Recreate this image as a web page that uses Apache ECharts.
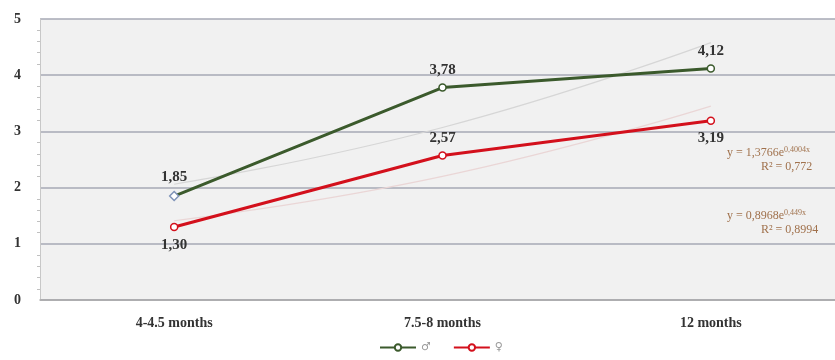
<!DOCTYPE html>
<html>
<head>
<meta charset="utf-8">
<script src="https://cdn.jsdelivr.net/npm/echarts@6/dist/echarts.min.js"></script>
<style>
  html, body { margin: 0; padding: 0; background: #fff; }
  #chart { width: 835px; height: 360px; }
</style>
</head>
<body>
<div id="chart"></div>
<script>
var categories = ['4-4.5 months', '7.5-8 months', '12 months'];
var maleValues = [1.85, 3.78, 4.12];
var femaleValues = [1.30, 2.57, 3.19];
// exponential trend lines (y = 1,3766e^0,4004x and y = 0,8968e^0,449x)
var maleTrend = [2.06, 3.07, 4.58];
var femaleTrend = [1.41, 2.20, 3.45];
var yTicks = [0, 1, 2, 3, 4, 5];

var serif = '"Liberation Serif", "DejaVu Serif", serif';
var green = '#3b5a2c';
var red = '#d3101c';

function comma(v) {
  return v.toFixed(2).replace('.', ',');
}

var eqRich = {
  a: { font: '12px "Liberation Serif", serif', fill: '#a0714c', lineHeight: 14 },
  s: { font: '8px "Liberation Serif", serif', fill: '#a0714c', verticalAlign: 'top', lineHeight: 14 },
  b: { font: '12px "Liberation Serif", serif', fill: '#a0714c', lineHeight: 14, padding: [0, 0, 0, 34] }
};

var chart = echarts.init(document.getElementById('chart'));
var option = {
  backgroundColor: '#ffffff',
  animation: false,
  grid: {
    left: 40, top: 19, bottom: 60, right: -10,
    outerBoundsMode: 'none',
    show: true, backgroundColor: '#f1f1f1', borderWidth: 0
  },
  xAxis: {
    type: 'category',
    data: categories,
    boundaryGap: true,
    axisLine: { lineStyle: { color: '#a9a9a9', width: 1.5 } },
    axisTick: { show: false },
    axisLabel: {
      fontFamily: serif, fontWeight: 'bold', fontSize: 14, color: '#333', margin: 16
    }
  },
  yAxis: {
    type: 'value',
    min: yTicks[0], max: yTicks[yTicks.length - 1], interval: 1,
    axisLine: { show: true, lineStyle: { color: '#c8c8c8' } },
    axisTick: { show: false },
    minorTick: { show: true, splitNumber: 5, length: 3, lineStyle: { color: '#c0c0c0' } },
    splitLine: { lineStyle: { color: '#a6a9b4', width: 1.5 } },
    axisLabel: {
      fontFamily: serif, fontWeight: 'bold', fontSize: 14, color: '#333', margin: 19
    }
  },
  legend: {
    bottom: 2, left: 374,
    itemWidth: 36, itemHeight: 8, itemGap: 22,
    textStyle: { fontFamily: '"DejaVu Sans", sans-serif', fontSize: 11, color: '#999' },
    data: ['♂', '♀']
  },
  series: [
    {
      name: 'male trend', type: 'line', data: maleTrend, smooth: true,
      symbol: 'none', silent: true, z: 1,
      lineStyle: { color: '#d6d6d6', width: 1.2 }
    },
    {
      name: 'female trend', type: 'line', data: femaleTrend, smooth: true,
      symbol: 'none', silent: true, z: 1,
      lineStyle: { color: '#ead6d6', width: 1.2 }
    },
    {
      name: '♂', type: 'line',
      data: maleValues.map(function (v, i) {
        return i === 0
          ? { value: v, symbol: 'diamond', symbolSize: 9, itemStyle: { borderColor: '#7f93b8' } }
          : { value: v };
      }),
      symbol: 'circle', symbolSize: 7, z: 3,
      lineStyle: { color: green, width: 3 },
      itemStyle: { color: '#fff', borderColor: green, borderWidth: 1.5 },
      label: {
        show: true, position: 'top', distance: 6,
        fontFamily: serif, fontWeight: 'bold', fontSize: 15, color: '#333',
        formatter: function (p) { return comma(p.value); }
      }
    },
    {
      name: '♀', type: 'line',
      // first and last labels sit below, the middle one above
      data: femaleValues.map(function (v, i) {
        return { value: v, label: { position: i === 1 ? 'top' : 'bottom' } };
      }),
      symbol: 'circle', symbolSize: 7, z: 3,
      lineStyle: { color: red, width: 3 },
      itemStyle: { color: '#fff', borderColor: red, borderWidth: 1.5 },
      label: {
        show: true, distance: 6,
        fontFamily: serif, fontWeight: 'bold', fontSize: 15, color: '#333',
        formatter: function (p) { return comma(p.value); }
      }
    }
  ],
  graphic: [
    {
      type: 'text', left: 727, top: 146,
      style: { text: '{a|y = 1,3766e}{s|0,4004x}\n{b|R² = 0,772}', rich: eqRich }
    },
    {
      type: 'text', left: 727, top: 209,
      style: { text: '{a|y = 0,8968e}{s|0,449x}\n{b|R² = 0,8994}', rich: eqRich }
    }
  ]
};

chart.setOption(option);
</script>
</body>
</html>
